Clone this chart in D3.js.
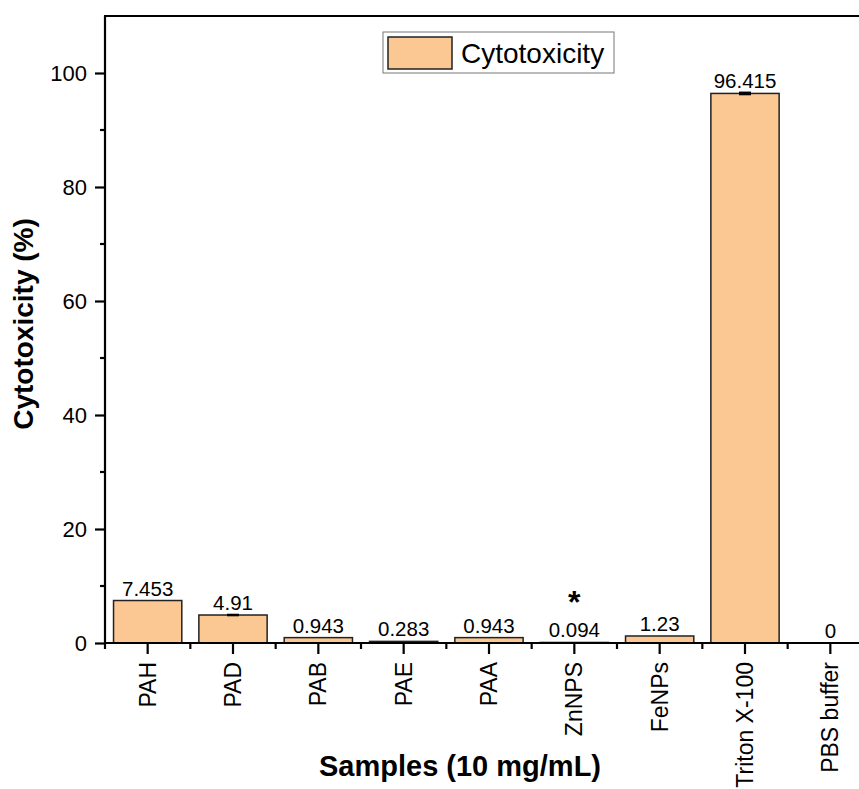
<!DOCTYPE html>
<html>
<head>
<meta charset="utf-8">
<script src="https://cdn.jsdelivr.net/npm/d3@7"></script>
<style>
  body { margin: 0; background: #fff; }
  svg { display: block; font-family: "Liberation Sans", Arial, sans-serif; }
</style>
</head>
<body>
<div id="vis"></div>
<script>
var width = 859,
    height = 789,
    plotLeft = 105, plotRight = 873, plotTop = 16, plotBottom = 643;

var samples = ["PAH", "PAD", "PAB", "PAE", "PAA", "ZnNPS", "FeNPs", "Triton X-100", "PBS buffer"];
var cytotoxicity = [7.453, 4.91, 0.943, 0.283, 0.943, 0.094, 1.23, 96.415, 0];
var errors = [0, 0.05, 0, 0, 0, 0, 0, 0.15, 0];
var labels = ["7.453", "4.91", "0.943", "0.283", "0.943", "0.094", "1.23", "96.415", "0"];
var yTicks = [0, 20, 40, 60, 80, 100];
var yMinor = [10, 30, 50, 70, 90];
var marked = ["ZnNPS"];

var fill = "#fbc793";

var svg = d3.select("#vis").append("svg")
    .attr("width", width)
    .attr("height", height);

var x = d3.scaleBand().domain(samples).range([plotLeft, plotRight]).paddingInner(0.2).paddingOuter(0.1);
var y = d3.scaleLinear().domain([0, 110]).range([plotBottom, plotTop]);

// bars
svg.selectAll(".bar").data(samples).enter()
    .append("rect")
    .attr("class", "bar")
    .attr("x", function(d){ return x(d) })
    .attr("width", x.bandwidth())
    .attr("y", function(d, i){ return y(cytotoxicity[i]) })
    .attr("height", function(d, i){ return y(0) - y(cytotoxicity[i]) })
    .attr("fill", fill)
    .attr("stroke", "#222")
    .attr("stroke-width", 1.5);

// error caps
var cap = 12;
samples.forEach(function(d, i){
    if (!errors[i]) return;
    var cx = x(d) + x.bandwidth() / 2;
    svg.append("line")
        .attr("x1", cx).attr("x2", cx)
        .attr("y1", y(cytotoxicity[i] - errors[i])).attr("y2", y(cytotoxicity[i] + errors[i]))
        .attr("stroke", "#000").attr("stroke-width", 1.5);
    [cytotoxicity[i] + errors[i], cytotoxicity[i] - errors[i]].forEach(function(v){
        svg.append("line")
            .attr("x1", cx - cap / 2).attr("x2", cx + cap / 2)
            .attr("y1", y(v)).attr("y2", y(v))
            .attr("stroke", "#000").attr("stroke-width", 2);
    });
});

// value labels
svg.selectAll(".val").data(samples).enter()
    .append("text")
    .attr("class", "val")
    .attr("x", function(d){ return x(d) + x.bandwidth() / 2 })
    .attr("y", function(d, i){ return y(cytotoxicity[i] + errors[i]) - 5 })
    .attr("text-anchor", "middle")
    .attr("font-size", 20.5)
    .text(function(d, i){ return labels[i] });

// significance mark
svg.selectAll(".star").data(marked).enter()
    .append("text")
    .attr("class", "star")
    .attr("x", function(d){ return x(d) + x.bandwidth() / 2 })
    .attr("y", y(0) - 30)
    .attr("text-anchor", "middle")
    .attr("font-size", 32)
    .attr("font-weight", "bold")
    .text("*");

// y axis
var yAxis = svg.append("g")
    .attr("transform", "translate(" + plotLeft + ",0)")
    .call(d3.axisLeft(y).tickValues(yTicks).tickSize(10).tickPadding(8).tickSizeOuter(0));
yAxis.select(".domain").attr("stroke-width", 2.2).attr("d", "M0," + plotTop + "V" + plotBottom);
yAxis.selectAll(".tick line").attr("stroke-width", 2.2);
yAxis.selectAll(".tick text").attr("font-size", 22).attr("font-family", "Liberation Sans, Arial, sans-serif").attr("fill", "#000");
yAxis.selectAll(".minor").data(yMinor).enter()
    .append("line")
    .attr("x1", -5).attr("x2", 0)
    .attr("y1", function(d){ return y(d) }).attr("y2", function(d){ return y(d) })
    .attr("stroke", "#000").attr("stroke-width", 2.2);

// x axis
var xAxis = svg.append("g")
    .attr("transform", "translate(0," + plotBottom + ")")
    .call(d3.axisBottom(x).tickSize(11).tickSizeOuter(0));
xAxis.select(".domain").attr("stroke-width", 2.2).attr("d", "M" + plotLeft + ",0H" + plotRight);
xAxis.selectAll(".tick line").attr("stroke-width", 2.2);
xAxis.selectAll(".tick text")
    .attr("font-size", 23)
    .attr("font-family", "Liberation Sans, Arial, sans-serif")
    .attr("fill", "#000")
    .attr("transform", "rotate(-90)")
    .attr("x", -19).attr("y", 0).attr("dy", "0.35em")
    .attr("text-anchor", "end");
var step = x.step();
xAxis.selectAll(".minor").data(samples).enter()
    .append("line")
    .attr("x1", function(d){ return x(d) + x.bandwidth() / 2 + step / 2 })
    .attr("x2", function(d){ return x(d) + x.bandwidth() / 2 + step / 2 })
    .attr("y1", 0).attr("y2", 6)
    .attr("stroke", "#000").attr("stroke-width", 2.2);
xAxis.append("line")
    .attr("x1", plotLeft).attr("x2", plotLeft).attr("y1", 0).attr("y2", 6)
    .attr("stroke", "#000").attr("stroke-width", 2.2);

// top frame line
svg.append("line")
    .attr("x1", plotLeft - 1).attr("x2", plotRight)
    .attr("y1", plotTop).attr("y2", plotTop)
    .attr("stroke", "#000").attr("stroke-width", 2.2);

// axis titles
svg.append("text")
    .attr("transform", "translate(33,324) rotate(-90)")
    .attr("text-anchor", "middle")
    .attr("font-size", 28)
    .attr("font-weight", "bold")
    .text("Cytotoxicity (%)");

svg.append("text")
    .attr("x", 460)
    .attr("y", 776)
    .attr("text-anchor", "middle")
    .attr("font-size", 29)
    .attr("font-weight", "bold")
    .text("Samples (10 mg/mL)");

// legend
var legend = svg.append("g").attr("transform", "translate(383,32)");
legend.append("rect")
    .attr("width", 231).attr("height", 41)
    .attr("fill", "#fff").attr("stroke", "#777").attr("stroke-width", 1);
legend.append("rect")
    .attr("x", 5).attr("y", 5).attr("width", 64).attr("height", 32)
    .attr("fill", fill).attr("stroke", "#222").attr("stroke-width", 1.5);
legend.append("text")
    .attr("x", 78).attr("y", 31)
    .attr("font-size", 28)
    .text("Cytotoxicity");
</script>
</body>
</html>
